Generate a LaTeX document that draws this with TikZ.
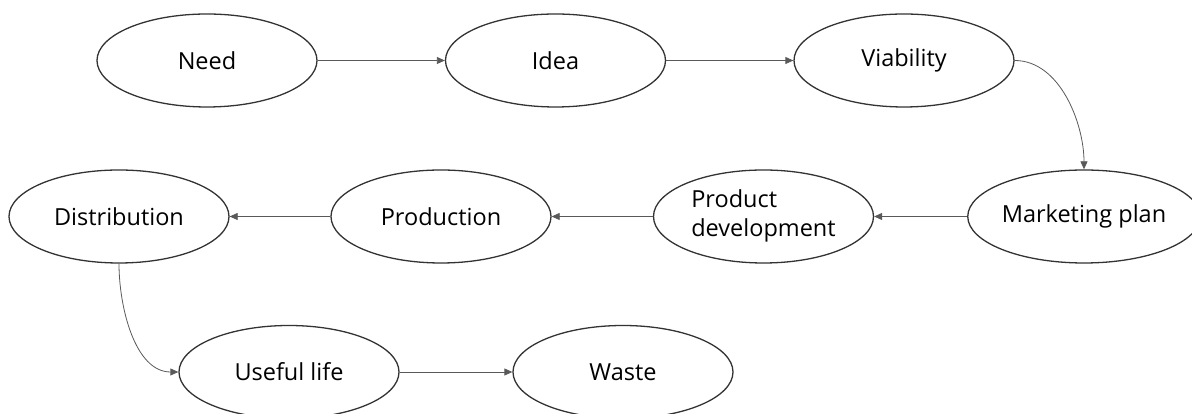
\documentclass[tikz,border=0pt]{standalone}
\usepackage{fontspec}
\setmainfont{Open Sans}
\usetikzlibrary{shapes.geometric,arrows.meta}
\begin{document}
\begin{tikzpicture}[x=1pt,y=1pt,
  stage/.style={ellipse,draw=black!80,line width=1.3pt,minimum width=220pt,minimum height=93pt,inner sep=0pt,font=\fontsize{23.5}{29}\selectfont},
  link/.style={draw=black!65,line width=0.8pt,-{Triangle[length=8pt,width=7pt]}}]
\useasboundingbox (0,0) rectangle (1192,414);
\node[stage] (need) at (207,353.5) {Need};
\node[stage] (idea) at (555.5,353.5) {Idea};
\node[stage] (viab) at (904,353.5) {Viability};
\node[stage,minimum width=214pt] (mkt) at (1084,197.5) {Marketing plan};
\node[stage] (pd) at (763.5,197.5) {\begin{tabular}{@{}l@{}}Product\\development\end{tabular}};
\node[stage] (prod) at (441,197.5) {Production};
\node[stage] (dist) at (119,197.5) {Distribution};
\node[stage] (use) at (289,42) {Useful life};
\node[stage] (waste) at (623,42) {Waste};
\draw[link] (need) -- (idea);
\draw[link] (idea) -- (viab);
\draw[link] (viab.east) to[out=0,in=90,looseness=0.9] (mkt.north);
\draw[link] (mkt) -- (pd);
\draw[link] (pd) -- (prod);
\draw[link] (prod) -- (dist);
\draw[link] (dist.south) to[out=-90,in=180,looseness=0.9] (use.west);
\draw[link] (use) -- (waste);
\end{tikzpicture}
\end{document}
